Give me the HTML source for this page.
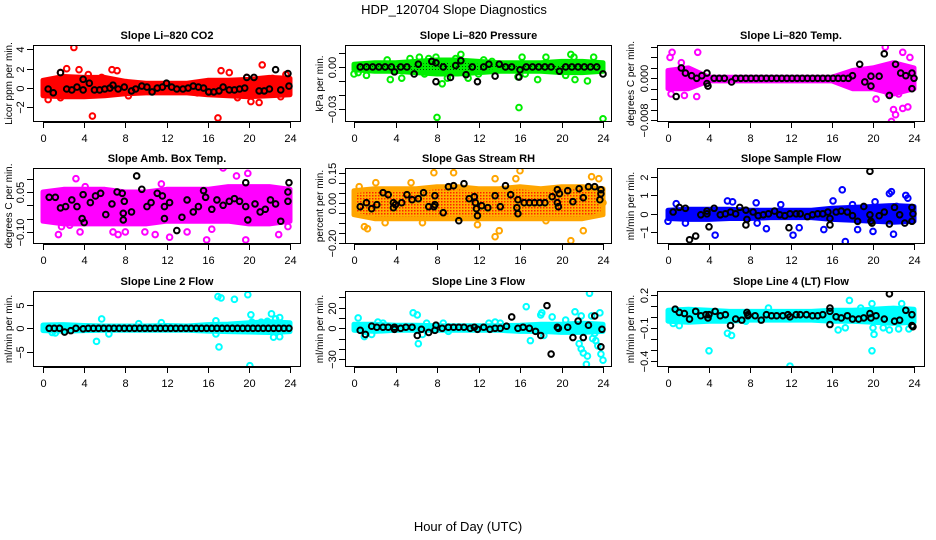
<!DOCTYPE html>
<html><head><meta charset="utf-8"><style>
html,body{margin:0;padding:0;background:#fff}
svg{display:block;font-family:"Liberation Sans",Arial,sans-serif}
</style></head><body>
<svg id="c" width="936" height="540" viewBox="0 0 936 540" xmlns="http://www.w3.org/2000/svg">
<defs>
<pattern id="rhpat" width="3" height="3" patternUnits="userSpaceOnUse"><rect width="3" height="3" fill="#FFB000"/><rect width="1.5" height="1.5" fill="#FF2000"/></pattern>
<pattern id="grpat" width="3" height="3" patternUnits="userSpaceOnUse"><rect width="3" height="3" fill="#00EE00"/><rect width="1" height="1" fill="#004400"/></pattern>
</defs>
<text x="454" y="14" text-anchor="middle" font-size="13">HDP_120704  Slope Diagnostics</text>
<text x="468" y="531" text-anchor="middle" font-size="13">Hour of Day (UTC)</text>
</svg>
<script>
const bandHours = [0,2,4,6,8,10,12,14,16,18,20,22,24];
const co2Upper = [0.8,1.2,1.1,1.1,0.7,0.5,0.5,0.5,0.8,0.8,0.9,1.1,1.0];
const co2Lower = [-0.8,-0.9,-0.9,-0.8,-0.6,-0.5,-0.5,-0.5,-0.7,-0.8,-0.9,-0.8,-0.7];
const co2OutH = [3,2.3,3.5,1.7,4.4,6.7,7.2,5.7,4.8,1.7,0.5,17,17.3,18.1,21.3,21,20.2,18.9,19.8,23.6,22.3,8.3,23.1,15];
const co2OutV = [4.2,2,1.9,1.6,1.4,1.9,1.8,1.1,-2.9,-1,-1.2,-3.1,1.8,1.6,2.4,-1.5,-1.4,-1,1.1,1.4,1,-0.8,-0.9,-0.5];
const co2BlkH = [0.5,1,1.7,2.3,2.8,3.3,3.9,3.9,4.5,5,5.5,6,6.5,6.8,7.3,7.9,8.6,9,9.6,10.1,10.6,11.1,11.6,12,12.5,13,13.6,14.1,14.6,15.1,15.6,16.1,16.6,17.1,17.5,18.1,18.6,19.1,19.6,19.8,20.5,21,21.5,22,22.6,23.1,23.8,23.9];
const co2BlkV = [-0.1,-0.5,1.6,-0.1,-0.2,0.1,0.9,-0.2,0.5,-0.2,-0.2,-0.1,0,0.3,-0.1,0.1,-0.3,-0.1,0.2,0.1,-0.4,0,0.1,0.5,0.1,-0.1,-0.1,0,0.2,0.1,0,-0.4,-0.4,-0.3,0.1,-0.2,-0.2,-0.1,0,1.1,1.1,-0.3,-0.3,-0.1,1.9,-0.2,1.5,0.2];
const prUpper = [0.002,0.003,0.003,0.004,0.005,0.005,0.004,0.003,0.003,0.003,0.004,0.004,0.003];
const prLower = [-0.002,-0.003,-0.003,-0.004,-0.005,-0.005,-0.004,-0.003,-0.003,-0.003,-0.004,-0.004,-0.003];
const prOutH = [0,3.2,3.5,5.4,6.3,7.2,7.9,8,8.5,9,9.8,10.3,11,12,12.5,13.3,15.9,16.2,17.7,18.5,20.4,20.9,21.2,22.5,23.1,24,21.3,1.2,0.4,9.5,4.6,6.8,15.8,16.5];
const prOutV = [-0.005,0.005,-0.009,0.006,0.007,0.006,0.007,-0.036,-0.012,-0.008,0.006,0.009,-0.008,-0.005,0.005,0.004,-0.029,0.007,-0.009,0.007,-0.006,0.009,0.007,-0.01,0.007,-0.037,-0.009,-0.006,-0.004,0.004,-0.008,-0.005,-0.007,-0.005];
const prBlkH = [0.6,1.2,1.8,2.4,3,3.6,3.9,4.5,5.1,5.8,6.2,7.5,7.9,7.9,8.6,9.3,9.8,10.3,10.8,11.4,11.9,12.5,13,13.6,14,14.6,15.2,15.9,16,16.6,17.2,17.8,18.4,19,19.8,20.4,21,21.6,22.2,22.8,23.4,24];
const prBlkV = [0,0,0,0,0,0,-0.0035,0,0,-0.005,0.002,0.004,0.003,-0.0105,0,-0.0075,0.001,0.0045,-0.0055,0,-0.0105,0,0.002,-0.0065,0.002,0,0,-0.0072,-0.002,0,0,0,0,0,-0.003,0,0,0,0,0,0,-0.005];
const ltUpper = [0.0015,0.002,0.0002,0.0002,0.0002,0.0002,0.0002,0.0002,0.0002,0.0015,0.002,0.003,0.002];
const ltLower = [-0.002,-0.002,-0.0005,-0.0005,-0.0005,-0.0005,-0.0005,-0.0005,-0.0005,-0.002,-0.002,-0.003,-0.002];
const ltOutH = [0.2,0.4,0.3,1.3,2.9,2.8,1.6,21.2,21.5,22,22.2,21.8,22.9,23.6,23.4,22.9,20.3,22.5,18.2];
const ltOutV = [0.004,0.005,-0.003,0.003,0.005,-0.0035,-0.0033,0.006,-0.003,-0.006,-0.007,-0.0083,0.005,0.004,-0.0055,-0.0058,-0.004,-0.003,0.001];
const ltBlkH = [0.8,1.3,1.7,2.3,2.8,3.3,3.8,3.8,3.9,4.5,5,5.5,6.2,6.6,7.1,7.6,8.1,8.6,9.1,9.6,10.1,10.6,11.1,11.6,12.1,12.6,13.1,13.6,14.1,14.6,15.1,15.6,16.1,16.6,17.1,17.6,18,18.7,19.2,19.8,19.8,20.6,21.1,21.6,22.2,22.7,23.2,23.8,23.8,24];
const ltBlkV = [-0.0035,0.002,0.001,0.0005,0,0.0005,0.001,-0.001,-0.0015,0,0,0,-0.0007,0,0,0,0,0,0,0,0,0,0,0,0,0,0,0,0,0,0,0,0,0,0,0,0.0005,0.0027,-0.0007,0.0004,-0.0015,0.0004,0.0047,-0.0033,0.0027,0.001,0.0005,0.001,-0.002,0];
const abUpper = [0.05,0.06,0.06,0.06,0.05,0.05,0.06,0.06,0.06,0.07,0.07,0.07,0.06];
const abLower = [-0.06,-0.07,-0.07,-0.07,-0.07,-0.07,-0.06,-0.06,-0.06,-0.06,-0.07,-0.07,-0.06];
const abOutH = [1.5,3.2,3.6,6.8,7.3,8,9.9,10.9,12.3,14,15.9,16.4,17.5,18.8,19.7,19.9,22.9,23.8,11.5,4.1,1.8,2.6];
const abOutV = [-0.11,0.1,-0.1,-0.1,-0.11,-0.1,-0.1,-0.11,-0.12,-0.1,-0.13,-0.09,0.14,0.11,-0.13,0.12,-0.11,-0.08,0.08,0.07,-0.08,-0.075];
const abBlkH = [0.6,1.2,1.7,2.2,2.8,3.3,3.8,3.9,4,4.6,5.1,5.6,6.1,6.7,7.2,7.7,7.9,7.8,7.8,8.6,9.1,9.6,10.1,10.5,11.1,11.6,11.8,11.8,12.3,13,13.5,14,14.6,15.1,15.6,15.8,16.4,16.9,17.5,18.1,18.6,19.1,19.7,19.7,19.9,20.6,21.1,21.6,22.1,22.6,23.1,23.8,23.8,23.9];
const abBlkV = [0.03,0.03,-0.01,-0.005,0.02,-0.005,-0.05,0.04,-0.065,0.01,0.035,0.045,-0.035,0.005,0.05,0.045,0.015,-0.03,-0.055,-0.025,0.11,0.06,-0.005,0.01,0.045,0.035,-0.005,-0.05,0.01,-0.095,-0.045,0.02,-0.025,-0.005,0.055,0.03,-0.015,0.02,0,0.015,0.025,0.015,0.085,-0.005,-0.055,0.005,-0.025,-0.015,0.02,0.005,-0.06,0.015,0.05,0.085];
const rhUpper = [0.06,0.07,0.07,0.07,0.08,0.08,0.07,0.07,0.08,0.07,0.08,0.08,0.07];
const rhLower = [-0.06,-0.08,-0.08,-0.08,-0.08,-0.08,-0.08,-0.08,-0.08,-0.08,-0.08,-0.08,-0.06];
const rhOutH = [0.5,1,1.3,7.7,9.6,10.1,13.6,13.6,14,15.6,16,20.9,22.1,22.9,23.6,11.9,6.6,3,18.5,24,2.1,5.5];
const rhOutV = [0.08,-0.12,-0.13,0.15,0.15,0.07,0.12,-0.17,-0.14,0.12,0.16,-0.19,-0.14,0.13,0.12,-0.11,-0.1,-0.1,-0.09,0,0.1,0.1];
const rhBlkH = [0.6,1.2,1.7,2.2,2.8,3.3,3.8,3.8,4,4.6,5.1,5.6,6.2,6.7,7.2,7.7,7.8,7.8,8.6,9.1,9.6,10.1,10.6,11.1,11.6,11.7,11.8,11.9,12.3,12.9,13.6,14.1,14.6,15.1,15.8,15.7,15.8,16.4,16.9,17.4,17.9,18.4,19.1,19.6,19.8,19.6,19.7,20.6,21.1,21.7,22.1,22.6,23.2,23.8,23.7,23.8];
const rhBlkV = [-0.02,0,-0.03,-0.01,0.05,0.04,0,-0.025,-0.01,0,0.04,0.015,0.02,0.05,-0.02,-0.02,0.035,-0.01,-0.05,0.08,0.085,-0.09,0.095,0.02,0.03,0,-0.03,-0.065,-0.015,-0.025,0.035,-0.02,0.085,0.04,0.015,-0.025,-0.055,0,0,0,0,0,0.03,0.065,0.045,0,-0.02,0.06,0.005,0.07,0.025,0.08,0.08,0.065,0.015,0.045];
const sfUpper = [0.2,0.25,0.25,0.25,0.2,0.2,0.2,0.2,0.3,0.35,0.4,0.45,0.4];
const sfLower = [-0.25,-0.3,-0.3,-0.25,-0.25,-0.2,-0.2,-0.2,-0.3,-0.35,-0.4,-0.45,-0.4];
const sfOutH = [0,0.8,1.7,4.6,5.8,6.3,8.6,8.7,9.6,12.2,12.8,15.2,17,17.3,18,18.5,20,20.2,21.6,21.8,22,22.3,23.2,23.4,16.1,11];
const sfOutV = [-0.4,0.55,-0.5,-1.15,0.7,0.65,0.6,-0.5,-0.8,-1.15,-0.75,-0.85,1.3,-1.5,0.5,-0.85,-0.95,0.65,1.1,1.2,-1.1,0.4,1,0.85,0.7,0.5];
const sfBlkH = [0.5,1.1,1.7,2.1,2.7,3.2,3.8,3.8,4,4.5,5.1,5.6,6.1,6.6,7,7.6,7.6,7.7,8.3,8.8,9.3,9.8,10.4,10.9,11.4,11.8,11.9,12.5,12.9,13.6,14.1,14.6,15.1,15.6,15.8,15.8,16.4,16.9,17.5,18,18.5,19.1,19.7,19.7,19.8,19.9,20.6,21.1,21.6,22.1,22.6,23.1,23.8,23.8,23.9];
const sfBlkV = [0.1,0.35,0.3,-1.4,-1.2,-0.05,0.15,0,-0.7,0.3,-0.05,0,0.1,0,0.35,-0.6,0.2,-0.3,0.1,-0.1,-0.05,0,0.15,-0.05,-0.1,-0.75,0,0,0,-0.15,-0.05,0,0,0.1,-0.25,-0.6,0.1,0.15,0.1,-0.1,-0.4,0.4,2.3,-0.05,-0.4,-0.5,-0.1,0.1,-0.55,0.35,-0.05,-0.5,0.35,-0.4,0];
const l2Upper = [0.7,0.8,0.6,0.5,0.5,0.5,0.6,0.5,0.8,0.9,1.2,1.4,1.2];
const l2Lower = [-0.5,-0.6,-0.5,-0.4,-0.4,-0.4,-0.4,-0.4,-0.6,-0.7,-0.8,-0.9,-0.7];
const l2OutH = [0.9,1.2,5.7,5.2,6.4,16.8,16.8,17,17.3,17.1,18.6,19.9,20.1,20.2,20.3,21.2,21.8,22.2,22.6,23,22.4,23,11.5,9.3];
const l2OutV = [-0.9,-1,2,-2.8,-1.2,1.6,-1.2,6.8,6.5,-4,6.2,7.2,-8,2.9,1.3,1.3,1.5,3.1,2,2.3,-1.9,-1.8,1.2,1];
const l2BlkH = [0.6,1.1,1.6,2.1,2.7,3.2,3.9,4.4,4.9,5.4,5.9,6.4,6.9,7.4,7.9,8.4,8.9,9.4,9.9,10.4,10.9,11.4,11.9,12.4,12.9,13.4,13.9,14.4,14.9,15.4,15.9,16.4,16.9,17.4,17.9,18.4,18.9,19.4,19.9,20.4,20.9,21.4,21.9,22.4,22.9,23.4,23.9];
const l2BlkV = [0,0,0,-0.8,-0.5,0,-0.1,0,0,0,0,0,0,0,0,0,0,0,0,0,0,0,0,0,0,0,0,0,0,0,0,0,0,0,0,0,0,0,0,0,0,0,0,0,0,0,0];
const l3Upper = [4,4,3,3,2.5,2.5,2.5,2.5,3,4,4,5,4];
const l3Lower = [-2,-3,-2,-2,-2,-2,-2,-2,-3,-3,-4,-4,-3];
const l3OutH = [0.4,1,1.7,2.3,2.8,5.7,6.1,6.2,6.6,7,8.6,9.1,13,13.6,14.1,16.6,17,18,18.3,18.1,19.1,20.4,21.3,21.7,21.9,22.1,22.4,22.5,22.7,22.9,23.2,23.3,23.5,23.8,24,23.7,21.9,23];
const l3OutV = [10,-8,-6,6,5,15,13,-15,-6,5,5,-3,5,6,5,21,-12,13,-7,15,11,8,16,-15,-20,-24,-35,-27,34,12,-5,-12,-17,-25,-31,15,12,-10];
const l3BlkH = [0.6,1.1,1.7,2.2,2.8,3.3,3.9,3.9,4.5,5,5.6,6.1,6.5,7.2,7.8,7.9,8.5,9.1,9.6,10.1,10.6,11.2,11.6,11.9,12.5,13.1,13.6,14.1,14.7,15.2,15.8,16.3,16.9,17.5,18,18.6,19,19.6,19.7,20.6,21.1,21.6,22.1,22.6,23.2,23.8,23.9];
const l3BlkV = [-2,-6,2,1,1,1,1,-1,0,1,1,-7,-1,-4,-2,3,0,1,1,1,1,0,1,-1,1,-1,0,0,2,11,0,1,0,-3,-7,22,-25,1,0,1,-9,7,-9,3,12,-18,-1];
const l4Upper = [0.06,0.07,0.06,0.05,0.05,0.05,0.05,0.05,0.06,0.06,0.07,0.08,0.07];
const l4Lower = [-0.04,-0.05,-0.04,-0.04,-0.03,-0.03,-0.03,-0.03,-0.04,-0.04,-0.05,-0.06,-0.05];
const l4OutH = [0.5,1.1,4,5.8,6.2,7.6,9.8,11.9,16.6,17.3,17.7,18.8,19.9,20,19.9,20.1,21,21.6,22.5,22.8,23.5,20.6];
const l4OutV = [-0.06,-0.08,-0.31,-0.15,-0.17,-0.04,0.08,-0.45,-0.12,-0.1,0.15,0.08,0.12,-0.1,-0.31,-0.16,-0.1,-0.12,-0.11,0.12,-0.11,0.04];
const l4BlkH = [0.7,1.1,1.6,2.1,2.7,3.2,3.7,3.9,4,4.6,5.1,5.6,6.1,6.6,7.2,7.7,7.8,7.8,8.5,9.1,9.6,10.1,10.6,11.2,11.7,11.9,12.5,12.9,13.5,14.1,14.6,15.1,15.8,15.8,15.8,16.4,16.9,17.5,18,18.6,19.1,19.7,19.8,20.3,21.1,21.6,22.1,22.6,23.2,23.8,23.8,23.9];
const l4BlkV = [0.07,0.04,0.03,-0.02,0.05,0.01,0.02,-0.01,0.02,0.05,0.01,0.02,-0.08,-0.02,-0.03,0.04,0.01,0.02,0.01,-0.03,0.02,0.01,0.01,0.01,0.02,0,0.02,0.02,0.02,0.01,0.01,0.02,0.08,0.05,-0.07,0,-0.01,0.01,-0.02,-0.02,-0.01,0.03,-0.01,0.01,-0.02,0.21,-0.04,-0.03,0.06,0.02,-0.08,-0.09];

const xTicks = [0,4,8,12,16,20,24];
const co2Ticks = [-2,0,2,4];            const co2Labels = ["\u22122","0","2","4"];
const prTicks = [0.01,0,-0.01,-0.02,-0.03]; const prLabels = ["","0.00","","","\u22120.03"];
const ltTicks = [0.006,0.004,0.002,0,-0.002,-0.004,-0.006,-0.008]; const ltLabels = ["","","","0.000","","","","\u22120.008"];
const abTicks = [0.1,0.05,0,-0.05,-0.1]; const abLabels = ["","0.05","","","\u22120.10"];
const rhTicks = [0.15,0.1,0.05,0,-0.05,-0.1,-0.15,-0.2]; const rhLabels = ["0.15","","","0.00","","","","\u22120.20"];
const sfTicks = [2,1,0,-1]; const sfLabels = ["2","1","0","\u22121"];
const l2Ticks = [5,0,-5]; const l2Labels = ["5","0","\u22125"];
const l3Ticks = [30,20,10,0,-10,-20,-30]; const l3Labels = ["","20","","0","","","\u221230"];
const l4Ticks = [0.2,0.1,0,-0.1,-0.2,-0.3,-0.4]; const l4Labels = ["0.2","","","\u22120.1","","","\u22120.4"];

const NS = "http://www.w3.org/2000/svg";
const svg = document.getElementById('c');
function mk(tag, attrs, parent){ const e=document.createElementNS(NS,tag); for(const k in attrs) e.setAttribute(k,attrs[k]); (parent||svg).appendChild(e); return e; }

const cols = [{l:33,r:301,x0:43,x24:290,yt:12},{l:345,r:612,x0:354,x24:603,yt:323},{l:657,r:925,x0:668,x24:914,yt:634}];
const rows = [{t:45,b:122},{t:168,b:244},{t:291,b:367}];

const panels = [
 {name:'co2',title:'Slope Li\u2013820 CO2',ylab:'Licor ppm per min.',c:0,r:0,ymax:4.46,ymin:-3.52,col:'#FF0000',band:'#FF0000',up:co2Upper,lo:co2Lower,oh:co2OutH,ov:co2OutV,bh:co2BlkH,bv:co2BlkV,tk:co2Ticks,tl:co2Labels},
 {name:'pressure',title:'Slope Li\u2013820 Pressure',ylab:'kPa per min.',c:1,r:0,ymax:0.0157,ymin:-0.0393,col:'#00EE00',band:'url(#grpat)',up:prUpper,lo:prLower,oh:prOutH,ov:prOutV,bh:prBlkH,bv:prBlkV,tk:prTicks,tl:prLabels},
 {name:'li820-temp',title:'Slope Li\u2013820 Temp.',ylab:'degrees C per min.',c:2,r:0,ymax:0.0064,ymin:-0.0084,col:'#FF00FF',band:'#FF00FF',up:ltUpper,lo:ltLower,oh:ltOutH,ov:ltOutV,bh:ltBlkH,bv:ltBlkV,tk:ltTicks,tl:ltLabels},
 {name:'amb-box-temp',title:'Slope Amb. Box Temp.',ylab:'degrees C per min.',c:0,r:1,ymax:0.14,ymin:-0.1455,col:'#FF00FF',band:'#FF00FF',up:abUpper,lo:abLower,oh:abOutH,ov:abOutV,bh:abBlkH,bv:abBlkV,tk:abTicks,tl:abLabels},
 {name:'gas-stream-rh',title:'Slope Gas Stream RH',ylab:'percent per min.',c:1,r:1,ymax:0.1735,ymin:-0.2065,col:'#FFA500',band:'url(#rhpat)',up:rhUpper,lo:rhLower,oh:rhOutH,ov:rhOutV,bh:rhBlkH,bv:rhBlkV,tk:rhTicks,tl:rhLabels},
 {name:'sample-flow',title:'Slope Sample Flow',ylab:'ml/min per min.',c:2,r:1,ymax:2.48,ymin:-1.63,col:'#0000FF',band:'#0000FF',up:sfUpper,lo:sfLower,oh:sfOutH,ov:sfOutV,bh:sfBlkH,bv:sfBlkV,tk:sfTicks,tl:sfLabels},
 {name:'line2-flow',title:'Slope Line 2 Flow',ylab:'ml/min per min.',c:0,r:2,ymax:7.99,ymin:-8.29,col:'#00FFFF',band:'#00FFFF',up:l2Upper,lo:l2Lower,oh:l2OutH,ov:l2OutV,bh:l2BlkH,bv:l2BlkV,tk:l2Ticks,tl:l2Labels},
 {name:'line3-flow',title:'Slope Line 3 Flow',ylab:'ml/min per min.',c:1,r:2,ymax:36.2,ymin:-37.6,col:'#00FFFF',band:'#00FFFF',up:l3Upper,lo:l3Lower,oh:l3OutH,ov:l3OutV,bh:l3BlkH,bv:l3BlkV,tk:l3Ticks,tl:l3Labels},
 {name:'line4-flow',title:'Slope Line 4 (LT) Flow',ylab:'ml/min per min.',c:2,r:2,ymax:0.236,ymin:-0.458,col:'#00FFFF',band:'#00FFFF',up:l4Upper,lo:l4Lower,oh:l4OutH,ov:l4OutV,bh:l4BlkH,bv:l4BlkV,tk:l4Ticks,tl:l4Labels}
];

panels.forEach(p=>{
  const C=cols[p.c], R=rows[p.r];
  const g=mk('g',{});
  
  
  const xs=h=>C.x0+(C.x24-C.x0)*h/24;
  const ys=v=>R.t+(R.b-R.t)*(p.ymax-v)/(p.ymax-p.ymin);
  const clip=mk('clipPath',{id:'cl-'+p.name},g);
  mk('rect',{x:C.l,y:R.t,width:C.r-C.l,height:R.b-R.t},clip);
  const pg=mk('g',{'clip-path':'url(#cl-'+p.name+')'},g);
  let pts=[];
  bandHours.forEach((h,i)=>pts.push(xs(h).toFixed(1)+','+ys(p.up[i]).toFixed(1)));
  for(let i=bandHours.length-1;i>=0;i--) pts.push(xs(bandHours[i]).toFixed(1)+','+ys(p.lo[i]).toFixed(1));
  const band=mk('polygon',{points:pts.join(' '),fill:p.band,stroke:p.col,'stroke-width':5,'stroke-linejoin':'round'},pg);
  
  
  p.oh.forEach((h,i)=>{
    const c=mk('circle',{cx:xs(h),cy:ys(p.ov[i]),r:2.8,fill:'none',stroke:p.col,'stroke-width':2},pg);
    
    
  });
  p.bh.forEach((h,i)=>{
    const c=mk('circle',{cx:xs(h),cy:ys(p.bv[i]),r:2.8,fill:'none',stroke:'#000','stroke-width':2},pg);
    
    
  });
  const box=mk('rect',{x:C.l+0.5,y:R.t+0.5,width:C.r-C.l-1,height:R.b-R.t-1,fill:'none',stroke:'#000','stroke-width':1},g);
  
  
  const t=mk('text',{x:(C.l+C.r)/2,y:R.t-6,'text-anchor':'middle','font-size':11,'font-weight':'bold'},g);
  t.textContent=p.title;
  
  
  const ym=(R.t+R.b)/2;
  const yl=mk('text',{x:C.yt,y:ym,'text-anchor':'middle','font-size':10,transform:'rotate(-90 '+C.yt+' '+ym+')'},g);
  yl.textContent=p.ylab;
  
  
  mk('line',{x1:xs(0),x2:xs(24),y1:R.b+0.5,y2:R.b+0.5,stroke:'#000'},g);
  xTicks.forEach(h=>{
    const X=Math.round(xs(h))+0.5;
    mk('line',{x1:X,x2:X,y1:R.b,y2:R.b+6,stroke:'#000'},g);
    const tx=mk('text',{x:X,y:R.b+20,'text-anchor':'middle','font-size':11},g);
    tx.textContent=h;
    
    
  });
  const yv=p.tk;
  mk('line',{x1:C.l+0.5,x2:C.l+0.5,y1:ys(Math.max(...yv)),y2:ys(Math.min(...yv)),stroke:'#000'},g);
  yv.forEach((v,i)=>{
    const Y=Math.round(ys(v))+0.5;
    mk('line',{x1:C.l-6,x2:C.l,y1:Y,y2:Y,stroke:'#000'},g);
    if(p.tl[i]){
      const lx=C.l-9;
      const tl=mk('text',{x:lx,y:Y,'text-anchor':'middle','font-size':11,transform:'rotate(-90 '+lx+' '+Y+')'},g);
      tl.textContent=p.tl[i];
      
      
    }
  });
});
</script>
</body></html>
